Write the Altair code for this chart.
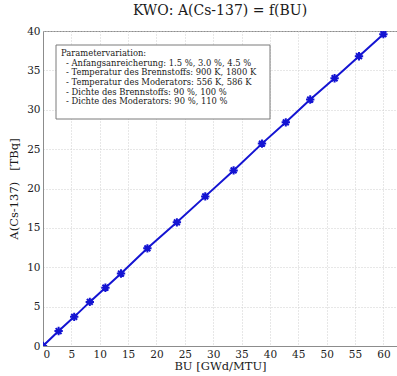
import altair as alt
import pandas as pd

# Data
bu = [0, 2.75, 5.5, 8.25, 11, 13.75, 18.4, 23.6, 28.6, 33.6, 38.6, 42.8, 47.1, 51.4, 55.7, 60]
activity = [0, 1.9, 3.7, 5.6, 7.4, 9.2, 12.4, 15.7, 19.0, 22.3, 25.7, 28.4, 31.3, 34.0, 36.8, 39.6]
x_ticks = [0, 5, 10, 15, 20, 25, 30, 35, 40, 45, 50, 55, 60]
y_ticks = [0, 5, 10, 15, 20, 25, 30, 35, 40]
NB = "\u00a0"
legend_header = "Parametervariation:"
legend_items = [
    "- Anfangsanreicherung: 1.5 %, 3.0 %, 4.5 %",
    "- Temperatur des Brennstoffs: 900 K, 1800 K",
    "- Temperatur des Moderators: 556 K, 586 K",
    "- Dichte des Brennstoffs: 90 %, 100 %",
    "- Dichte des Moderators: 90 %, 110 %",
]

df = pd.DataFrame({"BU": bu, "A": activity})

FONT = "DejaVu Serif"
BLUE = "#1414d2"

x_enc = alt.X("BU:Q", title="BU [GWd/MTU]",
              scale=alt.Scale(domain=[0, 62.4], nice=False, zero=False),
              axis=alt.Axis(values=x_ticks, format="d", labelOverlap=False))
y_enc = alt.Y("A:Q", title="A(Cs-137)" + NB * 3 + "[TBq]",
              scale=alt.Scale(domain=[0, 40], nice=False),
              axis=alt.Axis(values=y_ticks, format="d", labelOverlap=False))

base = alt.Chart(df).encode(x=x_enc, y=y_enc)
line = base.mark_line(color=BLUE, strokeWidth=2, clip=True)

asterisk = "M-1,0L1,0M0,-1L0,1M-0.7,-0.7L0.7,0.7M-0.7,0.7L0.7,-0.7"
points = base.mark_point(shape=asterisk, size=70, filled=False, color=BLUE,
                         strokeWidth=2, opacity=1, clip=True)

box_df = pd.DataFrame({"t": [0]})
box = alt.Chart(box_df).mark_rect(fill="white", stroke="#7a7a7a", strokeWidth=1).encode(
    x=alt.value(13), x2=alt.value(227), y=alt.value(14), y2=alt.value(88)
)
header = alt.Chart(box_df).mark_text(
    text=legend_header, align="left", baseline="top", font=FONT, fontSize=8.4,
    color="#1a1a1a", fontWeight=500
).encode(x=alt.value(18), y=alt.value(18))
items = alt.Chart(box_df).mark_text(
    text=legend_items, align="left", baseline="top", font=FONT, fontSize=8.4,
    lineHeight=9.7, color="#1a1a1a", fontWeight=500
).encode(x=alt.value(23), y=alt.value(27.7))

chart = alt.layer(line, points, box, header, items).properties(
    width=354, height=315,
    title=alt.TitleParams("KWO: A(Cs-137) = f(BU)", font=FONT, fontSize=14,
                          fontWeight="normal", color="#1a1a1a", offset=8, anchor="middle"),
    autosize=alt.AutoSizeParams(type="none"),
    padding={"left": 43, "top": 31, "right": 0, "bottom": 30},
).configure_view(stroke="#8c8c8c", strokeWidth=1).configure_axis(
    labelFont=FONT, labelFontSize=10.5, labelColor="#222222",
    titleFont=FONT, titleFontSize=11.5, titleFontWeight="normal", titleColor="#1a1a1a",
    grid=True, gridColor="#cfcfcf", gridDash=[1, 2], gridWidth=1,
    domainColor="#8c8c8c", ticks=False, labelPadding=3,
).configure_axisX(titlePadding=1).configure_axisY(titlePadding=7)

chart.save("out.html", embed_options={"renderer": "svg", "actions": False})
